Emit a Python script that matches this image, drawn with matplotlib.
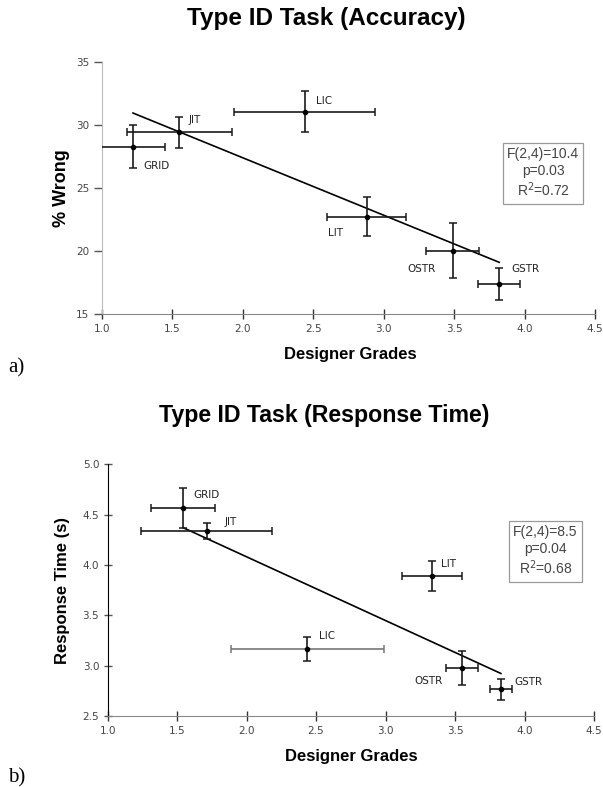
import matplotlib
matplotlib.use('Agg')
import matplotlib.pyplot as plt
import numpy as np

# ---------------- data ----------------
designs = ['GRID', 'JIT', 'LIC', 'LIT', 'OSTR', 'GSTR']

acc_grade = [1.22, 1.55, 2.44, 2.88, 3.49, 3.82]
acc_grade_err = [0.23, 0.37, 0.50, 0.28, 0.19, 0.15]
acc_wrong = [28.28, 29.42, 31.06, 22.72, 20.02, 17.38]
acc_wrong_err = [1.70, 1.25, 1.60, 1.55, 2.20, 1.27]
acc_stats = ['F(2,4)=10.4', 'p=0.03', 'R$^2$=0.72']

rt_grade = [1.544, 1.712, 2.437, 3.334, 3.551, 3.83]
rt_grade_err = [0.23, 0.47, 0.55, 0.215, 0.115, 0.077]
rt_time = [4.563, 4.34, 3.164, 3.89, 2.974, 2.765]
rt_time_err = [0.20, 0.08, 0.12, 0.15, 0.17, 0.105]
rt_stats = ['F(2,4)=8.5', 'p=0.04', 'R$^2$=0.68']

x_ticks = [1.0, 1.5, 2.0, 2.5, 3.0, 3.5, 4.0, 4.5]
acc_yticks = [15, 20, 25, 30, 35]
rt_yticks = [2.5, 3.0, 3.5, 4.0, 4.5, 5.0]

# ---------------- layout helpers ----------------
W, H = 603, 787
fig = plt.figure(figsize=(W / 100, H / 100), dpi=100)


def fx(px):
    return px / W


def fy(py):
    return 1 - py / H


# label offsets in pixels (dx, dy downwards) and horizontal alignment
acc_offsets = [(10, 19, 'left'), (9, -12, 'left'), (11, -11, 'left'),
               (-39, 16, 'left'), (-17, 18, 'right'), (12, -15, 'left')]
rt_offsets = [(10, -13, 'left'), (18, -9, 'left'), (12, -13, 'left'),
              (9, -12, 'left'), (-19, 13, 'right'), (13, -7, 'left')]


def draw_panel(ax, xs, xe, ys, ye, yticks, ylim, offsets, stats, stats_pos,
               xerr_colors, left_spine_color, ytick_dir, ytick_fmt):
    for i in range(len(xs)):
        ax.errorbar(xs[i], ys[i], yerr=ye[i], fmt='none', ecolor='#1a1a1a',
                    elinewidth=1.2, capsize=3, capthick=1.1, zorder=3)
        ax.errorbar(xs[i], ys[i], xerr=xe[i], fmt='none', ecolor=xerr_colors[i],
                    elinewidth=1.2, capsize=3, capthick=1.1, zorder=3)
    ax.plot(xs, ys, 'o', color='black', ms=3, zorder=4)
    # regression line
    k, b = np.polyfit(xs, ys, 1)
    xl = np.array([min(xs), max(xs)])
    ax.plot(xl, k * xl + b, color='black', lw=1.2, zorder=2)
    for i, name in enumerate(designs):
        dx, dy, ha = offsets[i]
        ax.annotate(name, (xs[i], ys[i]), xytext=(dx, -dy),
                    textcoords='offset pixels', ha=ha, va='center',
                    fontsize=7.5, color='#222222', family='DejaVu Sans')
    ax.text(stats_pos[0], stats_pos[1], '\n'.join(stats), transform=ax.transAxes,
            ha='center', va='center', fontsize=10, color='#444444',
            family='Liberation Sans', linespacing=1.2,
            bbox=dict(boxstyle='square,pad=0.3', fc='white', ec='#999999', lw=0.9))
    ax.set_xlim(1.0, 4.5)
    ax.set_ylim(*ylim)
    ax.set_xticks(x_ticks)
    ax.set_xticklabels(['%.1f' % t for t in x_ticks])
    ax.set_yticks(yticks)
    ax.set_yticklabels([ytick_fmt % t for t in yticks])
    for s in ['top', 'right']:
        ax.spines[s].set_visible(False)
    ax.spines['bottom'].set_color('#888888')
    ax.spines['left'].set_color(left_spine_color)
    ax.tick_params(axis='x', direction='inout', length=7, width=1.0, color='#333333',
                   labelsize=7.5, labelcolor='#444444', pad=4)
    ax.tick_params(axis='y', direction=ytick_dir, length=6, width=1.0, color='#555555',
                   labelsize=7.5, labelcolor='#444444', pad=3)
    for lab in ax.get_xticklabels() + ax.get_yticklabels():
        lab.set_family('DejaVu Sans')


# ---------------- panel a ----------------
ax1 = fig.add_axes([fx(102), fy(314), fx(595) - fx(102), fy(62) - fy(314)])
draw_panel(ax1, acc_grade, acc_grade_err, acc_wrong, acc_wrong_err,
           acc_yticks, (15, 35), acc_offsets, acc_stats, (0.895, 0.558),
           ['#1a1a1a'] * 6, '#bbbbbb', 'out', '%d')

# ---------------- panel b ----------------
ax2 = fig.add_axes([fx(107.6), fy(716), fx(594) - fx(107.6), fy(464.3) - fy(716)])
draw_panel(ax2, rt_grade, rt_grade_err, rt_time, rt_time_err,
           rt_yticks, (2.5, 5.0), rt_offsets, rt_stats, (0.90, 0.654),
           ['#1a1a1a', '#1a1a1a', '#777777', '#1a1a1a', '#1a1a1a', '#1a1a1a'],
           'black', 'inout', '%.1f')

# ---------------- titles & labels ----------------
tkw = dict(family='Liberation Sans', fontweight='bold', color='black')
fig.text(fx(326), fy(19), 'Type ID Task (Accuracy)', ha='center', va='center',
         fontsize=17.5, **tkw)
fig.text(fx(324), fy(415), 'Type ID Task (Response Time)', ha='center', va='center',
         fontsize=16.7, **tkw)
fig.text(fx(350), fy(354), 'Designer Grades', ha='center', va='center', fontsize=12, **tkw)
fig.text(fx(351), fy(757), 'Designer Grades', ha='center', va='center', fontsize=12, **tkw)
fig.text(fx(62), fy(188), '% Wrong', ha='center', va='center', rotation=90,
         fontsize=13, **tkw)
fig.text(fx(63), fy(590), 'Response Time (s)', ha='center', va='center', rotation=90,
         fontsize=12, **tkw)
fig.text(fx(8), fy(368), 'a)', ha='left', va='center', fontsize=15,
         family='Liberation Serif')
fig.text(fx(8), fy(778), 'b)', ha='left', va='center', fontsize=15,
         family='Liberation Serif')

fig.savefig('out.png', dpi=100)
